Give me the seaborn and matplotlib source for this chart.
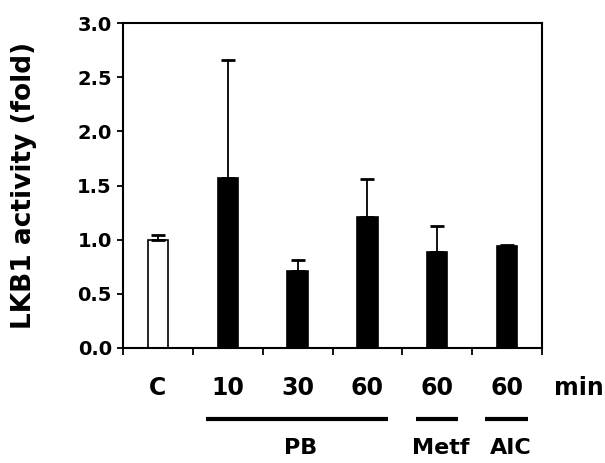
import matplotlib
matplotlib.use("Agg")
import matplotlib.pyplot as plt
import matplotlib.transforms as mtransforms
import seaborn as sns
import pandas as pd

categories = ["C", "10", "30", "60", "60 ", "60  "]
tick_labels = ["C", "10", "30", "60", "60", "60"]
values = [1.00, 1.57, 0.71, 1.21, 0.89, 0.945]
errors = [0.04, 1.09, 0.10, 0.35, 0.24, 0.005]
bar_colors = ["white", "black", "black", "black", "black", "black"]
groups = ["PB", "Metf", "AIC"]
group_spans = [(1, 3), (4, 4), (5, 5)]

sns.set_theme(style="white")
plt.rcParams['font.family'] = ['DejaVu Sans']
plt.rcParams['font.weight'] = 'bold'
plt.rcParams['text.color'] = 'black'
plt.rcParams['xtick.color'] = 'black'
plt.rcParams['ytick.color'] = 'black'
plt.rcParams['axes.labelcolor'] = 'black'

df = pd.DataFrame({"cat": categories, "val": values})

fig = plt.figure(figsize=(6.05, 4.63), dpi=100)
ax = fig.add_axes([0.2033, 0.2484, 0.6926, 0.7019])

sns.barplot(data=df, x="cat", y="val", hue="cat", palette=dict(zip(categories, bar_colors)),
            order=categories, legend=False, width=0.29, edgecolor="black", linewidth=1.2,
            ax=ax, errorbar=None)

ax.errorbar(range(len(categories)), values, yerr=[[0]*len(errors), errors], fmt="none",
            ecolor="black", elinewidth=1.3, capsize=5, capthick=2)

ax.set_xlim(-0.5, len(categories) - 0.5)
ax.set_ylim(0, 3.0)
ax.set_yticks([0.0, 0.5, 1.0, 1.5, 2.0, 2.5, 3.0])
ax.set_yticklabels([f"{v:.1f}" for v in [0.0, 0.5, 1.0, 1.5, 2.0, 2.5, 3.0]],
                   fontsize=14, fontweight="bold")
ax.set_xticks(range(len(categories)))
ax.set_xticklabels(tick_labels, fontsize=17, fontweight="bold")
ax.set_xticks([i - 0.5 for i in range(len(categories) + 1)], minor=True)
ax.tick_params(axis="x", which="major", length=0, pad=20)
ax.tick_params(axis="x", which="minor", length=5, width=1.3, direction="out", bottom=True)
ax.tick_params(axis="y", length=4, width=1.3, direction="out", left=True, pad=4)
for s in ax.spines.values():
    s.set_color("black")
    s.set_linewidth(1.5)
ax.set_xlabel("")
ax.set_ylabel("LKB1 activity (fold)", fontsize=19, fontweight="bold", labelpad=29)

trans = mtransforms.blended_transform_factory(ax.transData, ax.transAxes)
ax.text(6.03, -0.123, "min", transform=trans, ha="center", va="center",
        fontsize=17, fontweight="bold")
for g, (a, b) in zip(groups, group_spans):
    ax.plot([a - 0.31, b + 0.3], [-0.218, -0.218], transform=trans, color="black",
            lw=3, clip_on=False, solid_capstyle="butt")
    ax.text((a + b) / 2 + 0.05, -0.308, g, transform=trans, ha="center",
            va="center", fontsize=16, fontweight="bold")

fig.savefig("out.png", dpi=100)
